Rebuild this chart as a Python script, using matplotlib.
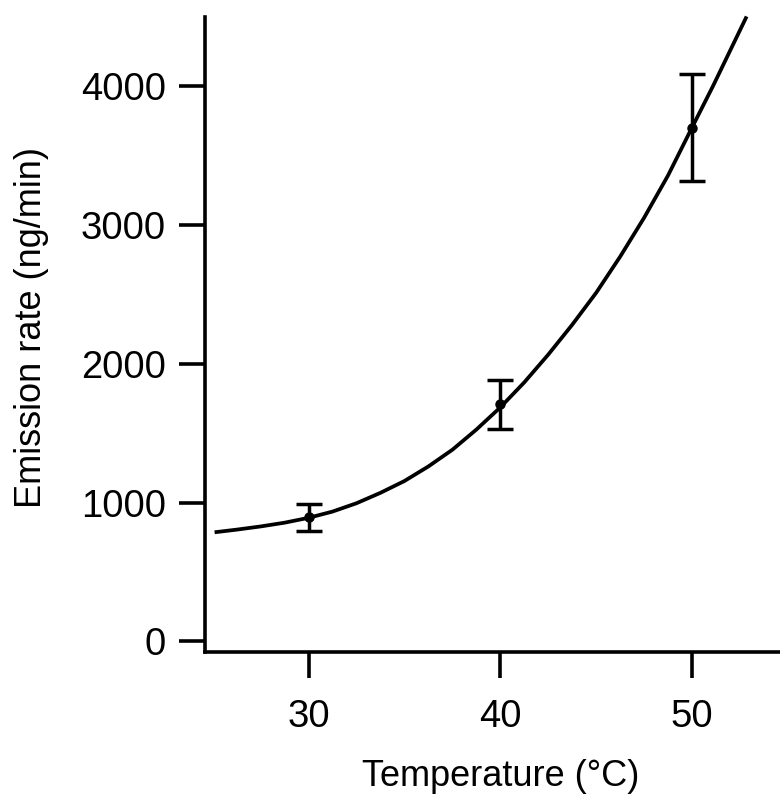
import matplotlib
matplotlib.use("Agg")
import matplotlib.pyplot as plt

# Measured data (mean +/- error)
temps = [30, 40, 50]
rates = [895, 1708, 3700]
errors = [98, 175, 388]

# Fitted curve, values
curve_t = [25.1, 26.25, 27.5, 28.75, 30.0, 31.25, 32.5, 33.75, 35.0, 36.25, 37.5,
           38.75, 40.0, 41.25, 42.5, 43.75, 45.0, 46.25, 47.5, 48.75, 50.0, 51.1, 52.85]
curve_v = [786, 805, 828, 855, 890, 935, 995, 1070, 1155, 1260, 1380,
           1525, 1685, 1865, 2065, 2280, 2510, 2770, 3050, 3355, 3700, 4000, 4500]

x_ticks = [30, 40, 50]
y_ticks = [0, 1000, 2000, 3000, 4000]

plt.rcParams['font.family'] = ['Liberation Sans', 'DejaVu Sans']

fig = plt.figure(figsize=(7.8, 7.95), dpi=100)
ax = fig.add_axes([205/780, 1-652/795, 575/780, (652-17)/795])

ax.plot(curve_t, curve_v, color='black', lw=2.7, clip_on=False,
        solid_capstyle='butt', solid_joinstyle='round')
ax.errorbar(temps, rates, yerr=errors, fmt='o', color='black', ms=6.5,
            elinewidth=2.5, capsize=9.5, capthick=2.5)

ax.set_xlim(24.6, 54.59)
ax.set_ylim(-76, 4496)
ax.set_xticks(x_ticks)
ax.set_yticks(y_ticks)
ax.set_xticklabels([str(t) for t in x_ticks])
ax.set_yticklabels([str(t) for t in y_ticks])

for s in ['top', 'right']:
    ax.spines[s].set_visible(False)
for s in ['left', 'bottom']:
    ax.spines[s].set_linewidth(2.6)

ax.tick_params(axis='both', direction='out', length=19, width=2.6, labelsize=27.5)
ax.tick_params(axis='y', pad=9)
ax.tick_params(axis='x', pad=15)

fig.text(501/780, 1-777/795, 'Temperature (°C)', ha='center', va='center', fontsize=26)
fig.text(32/780, 1-327/795, 'Emission rate (ng/min)', ha='center', va='center',
         rotation=90, fontsize=26)

fig.savefig('out.png', dpi=100)
